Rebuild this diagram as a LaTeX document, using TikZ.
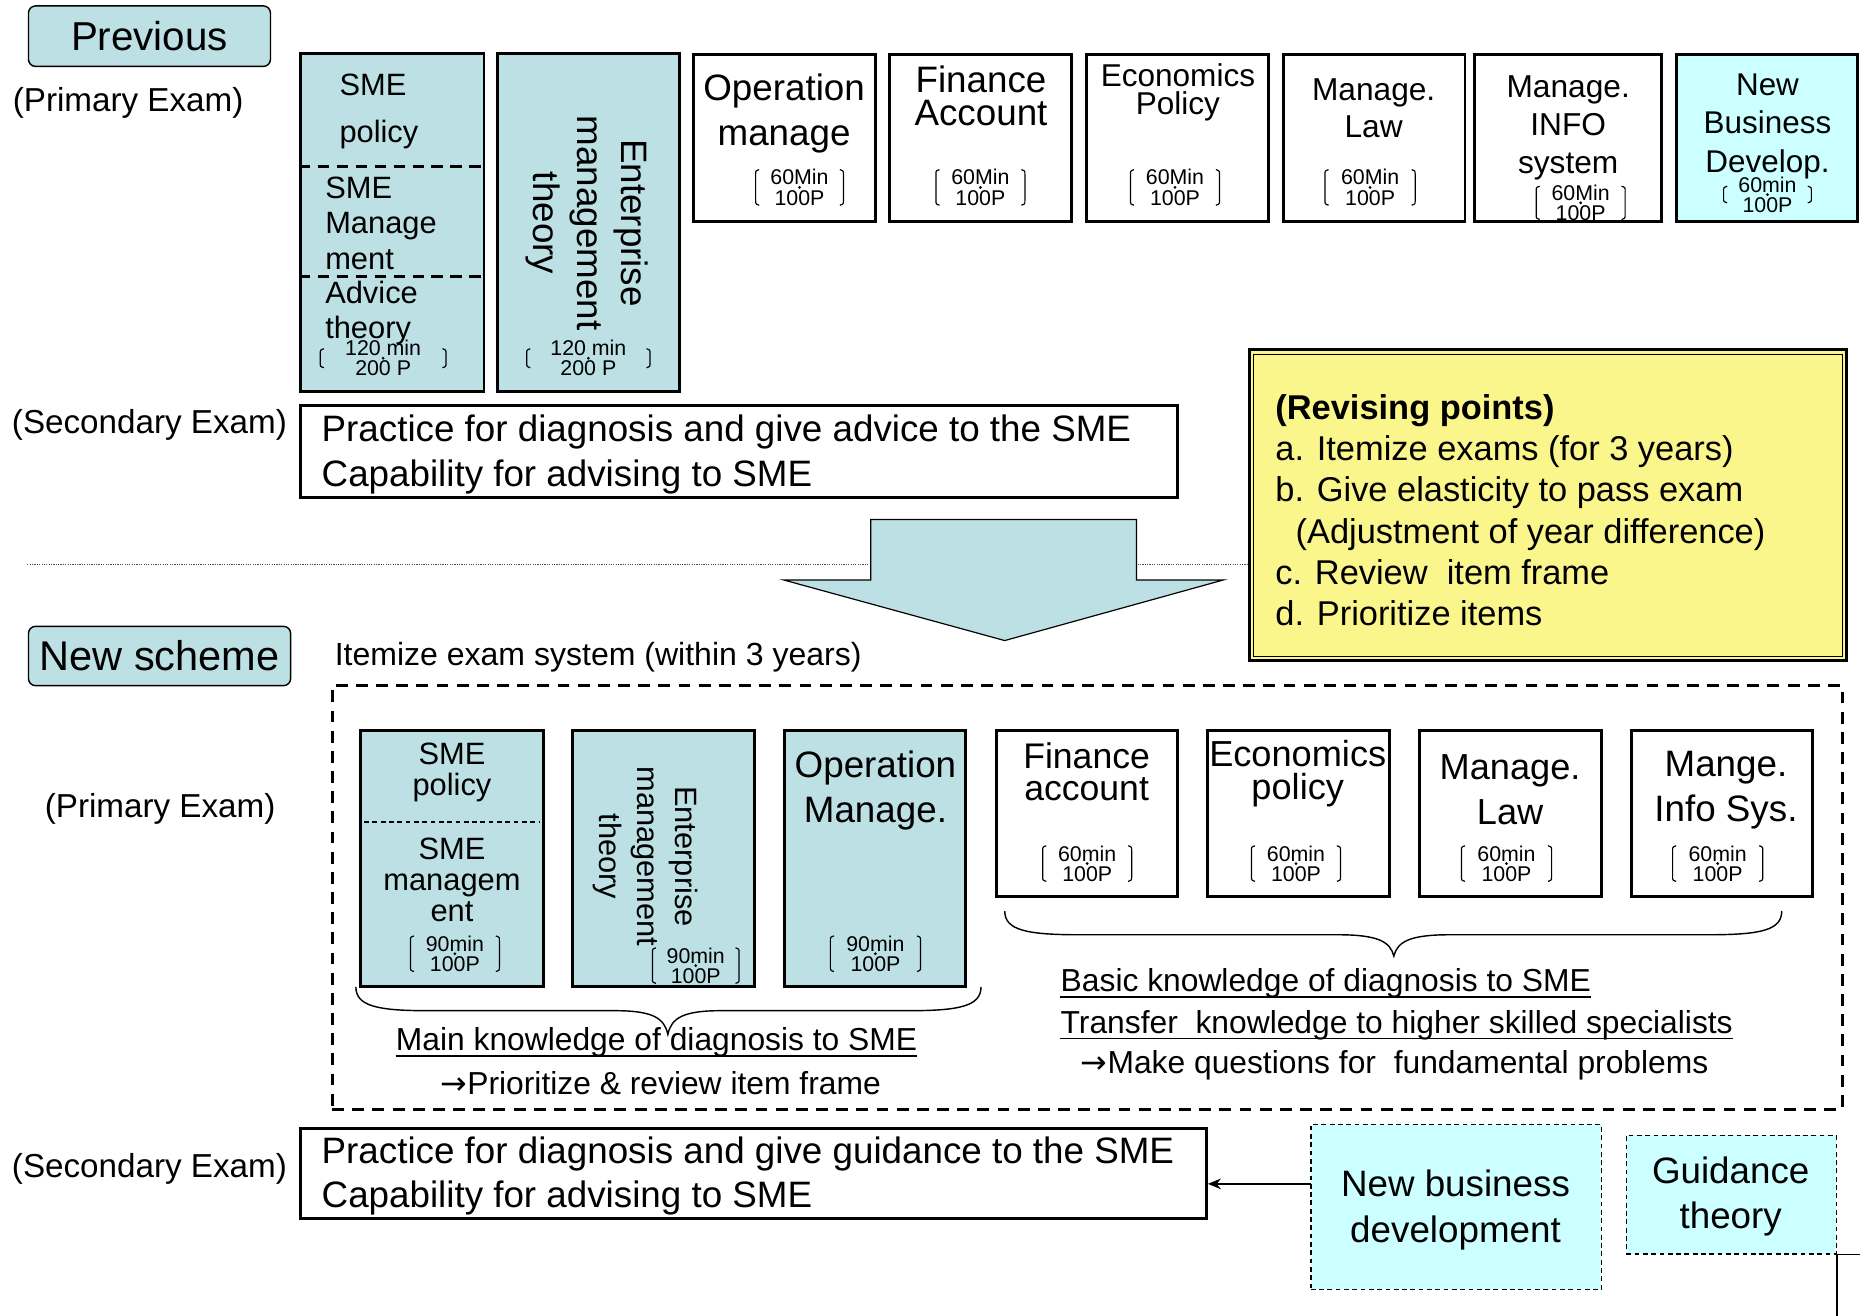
\documentclass[tikz,border=0pt]{standalone}
\usepackage{fontspec}
\setmainfont{Liberation Sans}
\newfontfamily\dv{DejaVu Sans}
\usetikzlibrary{arrows.meta,calc}
\definecolor{lb}{HTML}{BCE0E4}
\definecolor{cy}{HTML}{CCFFFF}
\definecolor{yl}{HTML}{FAF68C}
\newcommand\fs[2]{\fontsize{#1}{#2}\selectfont}
% name, cx, cy, line1, line2, half width, half height
\newcommand\infobox[7]{%
  \node[infot] (#1) at (#2,#3) {#4\\#5};
  \fill (#2,#3) circle (1.3pt);
  \draw[brk] (#2-#6+3,#3-#7) .. controls (#2-#6,#3-#7+1) .. (#2-#6,#3-#7+4) -- (#2-#6,#3+#7-4) .. controls (#2-#6,#3+#7-1) .. (#2-#6+3,#3+#7);
  \draw[brk] (#2+#6-3,#3-#7) .. controls (#2+#6,#3-#7+1) .. (#2+#6,#3-#7+4) -- (#2+#6,#3+#7-4) .. controls (#2+#6,#3+#7-1) .. (#2+#6-3,#3+#7);
}
\newcommand\uln[1]{\draw[line width=1.5pt] ($(#1.base west)+(0,4.5)$) -- ($(#1.base east)+(0,4.5)$);}
\tikzset{
  bx/.style={draw, line width=2.5pt, inner sep=0pt},
  tx/.style={inner sep=0pt, align=center},
  txl/.style={inner sep=0pt, align=left, anchor=west},
  infot/.style={inner sep=0pt, align=center, font=\fs{18}{17}},
  brk/.style={line width=1pt},
  dsh/.style={draw, line width=1.2pt, dash pattern=on 4pt off 3pt, inner sep=0pt},
  title/.style={draw, line width=1.2pt, rounded corners=6pt, fill=lb, inner sep=0pt},
}
\begin{document}
\begin{tikzpicture}[x=1pt, y=-1pt]
\useasboundingbox (0,0) rectangle (1568,1109);

% ---------- Previous ----------
\node[title, minimum width=204pt, minimum height=51pt, font=\fs{34}{34}] (prev) at (126,30.5) {Previous};
\node[tx, font=\fs{28}{28}] (prim1) at (108,87) {(Primary Exam)};

\node[bx, fill=lb, minimum width=155pt, minimum height=285pt] (A1) at (330.5,187.5) {};
\draw[line width=2.5pt, dash pattern=on 10pt off 6pt] (A1.west |- 0,140) -- (A1.east |- 0,140);
\draw[line width=2.5pt, dash pattern=on 10pt off 6pt] (A1.west |- 0,233) -- (A1.east |- 0,233);
\node[txl, font=\fs{26}{40}] (A1a) at (286,94) {SME\\policy};
\node[txl, font=\fs{26}{30}] (A1b) at (274,188) {SME\\Manage\\ment};
\node[txl, font=\fs{26}{30}] (A1c) at (274,264) {Advice\\theory};
\infobox{A1i}{323}{302}{120 min}{200 P}{53}{8}

\node[bx, fill=lb, minimum width=154pt, minimum height=285pt] (A2) at (496,187.5) {};
\node[tx, rotate=-90, font=\fs{31}{37}] (A2t) at (495,188) {Enterprise\\management\\theory};
\infobox{A2i}{496}{302}{120 min}{200 P}{52}{8}

\node[bx, minimum width=153pt, minimum height=141pt] (A3) at (661.5,116.5) {};
\node[tx, font=\fs{31}{38}] (A3t) at (661,96) {Operation\\manage};
\infobox{A3i}{674}{158}{60Min}{100P}{37}{15}

\node[bx, minimum width=153pt, minimum height=141pt] (A4) at (826.5,116.5) {};
\node[tx, font=\fs{31}{28}] (A4t) at (827,81) {Finance\\Account};
\infobox{A4i}{826.5}{158}{60Min}{100P}{37.5}{15}

\node[bx, minimum width=153pt, minimum height=141pt] (A5) at (992.5,116.5) {};
\node[tx, font=\fs{26.6}{24}] (A5t) at (993,78) {Economics\\Policy};
\infobox{A5i}{990.5}{158}{60Min}{100P}{37.5}{15}

\node[bx, minimum width=153pt, minimum height=141pt] (A6) at (1158.5,116.5) {};
\node[tx, font=\fs{26.7}{31}] (A6t) at (1158,91) {Manage.\\Law};
\infobox{A6i}{1155}{158}{60Min}{100P}{38}{15}

\node[bx, minimum width=158pt, minimum height=141pt] (A7) at (1322,116.5) {};
\node[tx, font=\fs{26.7}{32}] (A7t) at (1322,108) {Manage.\\INFO\\system};
\infobox{A7i}{1332.5}{171}{60Min}{100P}{37.5}{14}

\node[bx, fill=cy, minimum width=153pt, minimum height=141pt] (A8) at (1489.5,116.5) {};
\node[tx, font=\fs{26.5}{32.5}] (A8t) at (1490,106.5) {New\\Business\\Develop.};
\infobox{A8i}{1490}{164}{60min}{100P}{37}{7}

\node[tx, font=\fs{28}{28}] (sec1) at (126,358) {(Secondary Exam)};
\node[bx, minimum width=740pt, minimum height=77pt] (S1) at (623,380.5) {};
\node[txl, font=\fs{31}{38}] (S1t) at (271,383) {Practice for diagnosis and give advice to the SME\\Capability for advising to SME};

% ---------- divider and arrow ----------
\draw[line width=1pt, gray!60!black, dash pattern=on 1pt off 1pt] (23,476) -- (1053,476);
\draw[line width=1pt, fill=lb] (734,438) -- (958,438) -- (958,489) -- (1031,489) -- (847,540) -- (661,489) -- (734,489) -- cycle;

% ---------- Revising points ----------
\node[draw, line width=2.5pt, fill=yl, minimum width=504pt, minimum height=262pt] (rev) at (1305,426) {};
\draw[line width=1pt] ($(rev.north west)+(5,5)$) rectangle ($(rev.south east)+(-5,-5)$);
\node[txl, font=\fs{29}{34.8}] (revt) at (1075,430) {{\bfseries (Revising points)}\\a. Itemize exams (for 3 years)\\b. Give elasticity to pass exam\\\hspace*{17pt}(Adjustment of year difference)\\c. Review\ \ item frame\\d. Prioritize items};

% ---------- New scheme ----------
\node[title, minimum width=221pt, minimum height=50pt, font=\fs{35}{35}] (new) at (134.5,553) {New scheme};
\node[txl, font=\fs{27}{27}] (item) at (282,554) {Itemize exam system (within 3 years)};
\node[draw, line width=2.5pt, dash pattern=on 10pt off 7pt, minimum width=1273pt, minimum height=357pt] (dbox) at (916.5,756.5) {};
\node[tx, font=\fs{28}{28}] (prim2) at (135,682) {(Primary Exam)};

\node[bx, fill=lb, minimum width=154pt, minimum height=216pt] (B1) at (381,724) {};
\draw[line width=1.2pt, dash pattern=on 4pt off 3pt] (307,693) -- (455,693);
\node[tx, font=\fs{26}{26}] (B1a) at (381,651) {SME\\policy};
\node[tx, font=\fs{26}{26}] (B1b) at (381,742) {SME\\managem\\ent};
\infobox{B1i}{383.5}{804}{90min}{100P}{37.5}{15}

\node[bx, fill=lb, minimum width=153pt, minimum height=216pt] (B2) at (559.5,724) {};
\node[tx, rotate=-90, font=\fs{26}{32}] (B2t) at (544.5,722) {Enterprise\\management\\theory};
\infobox{B2i}{586.5}{814}{90min}{100P}{36.5}{15}

\node[bx, fill=lb, minimum width=153pt, minimum height=216pt] (B3) at (737.5,724) {};
\node[tx, font=\fs{31}{38}] (B3t) at (738,666) {Operation\\Manage.};
\infobox{B3i}{738}{804}{90min}{100P}{38}{15}

\node[bx, minimum width=153pt, minimum height=140pt] (B4) at (916.5,686) {};
\node[tx, font=\fs{30}{27}] (B4t) at (916,651) {Finance\\account};
\infobox{B4i}{916.5}{728}{60min}{100P}{37.5}{15}

\node[bx, minimum width=153pt, minimum height=140pt] (B5) at (1094.5,686) {};
\node[tx, font=\fs{30.5}{28}] (B5t) at (1094,652) {Economics\\policy};
\infobox{B5i}{1092.5}{728}{60min}{100P}{37.5}{15}

\node[bx, minimum width=153pt, minimum height=140pt] (B6) at (1273.5,686) {};
\node[tx, font=\fs{30.5}{38}] (B6t) at (1273,666) {Manage.\\Law};
\infobox{B6i}{1270}{728}{60min}{100P}{38}{15}

\node[bx, minimum width=153pt, minimum height=140pt] (B7) at (1451.5,686) {};
\node[tx, font=\fs{31}{38}] (B7t) at (1455,666) {Mange.\\Info Sys.};
\infobox{B7i}{1448}{728}{60min}{100P}{38}{15}

% braces
\draw[line width=1.2pt] (300,832) .. controls (300,848) and (318,852) .. (360,852) -- (518,852) .. controls (550,852) and (560,858) .. (563,872) .. controls (566,858) and (576,852) .. (608,852) -- (767,852) .. controls (809,852) and (827,848) .. (827,832);
\draw[line width=1.2pt] (847,768) .. controls (847,784) and (865,788) .. (910,788) -- (1128,788) .. controls (1162,788) and (1172,794) .. (1175,806) .. controls (1178,794) and (1188,788) .. (1222,788) -- (1440,788) .. controls (1485,788) and (1502,784) .. (1502,768);

\node[tx, font=\fs{26.8}{26.8}] (main) at (553.5,879) {Main knowledge of diagnosis to SME};
\uln{main}
\node[tx, font=\fs{26.8}{26.8}] (prio) at (557,913) {{\dv →}Prioritize \& review item frame};
\node[txl, font=\fs{26.8}{26.8}] (basic) at (894,829) {Basic knowledge of diagnosis to SME};
\uln{basic}
\node[txl, font=\fs{26.8}{26.8}] (trans) at (894,864) {Transfer\ \ knowledge to higher skilled specialists};
\uln{trans}
\node[txl, font=\fs{26.8}{26.8}] (make) at (911,898) {{\dv →}Make questions for\ \ fundamental problems};

% ---------- Secondary (new) ----------
\node[tx, font=\fs{28}{28}] (sec2) at (126,985) {(Secondary Exam)};
\node[bx, minimum width=764pt, minimum height=76pt] (S2) at (635,989) {};
\node[txl, font=\fs{31}{37}] (S2t) at (271,991.5) {Practice for diagnosis and give guidance to the SME\\Capability for advising to SME};

\node[dsh, fill=cy, minimum width=245pt, minimum height=139pt] (NB) at (1227.5,1017.5) {};
\node[tx, font=\fs{31}{38}] (NBt) at (1227,1020) {New business\\development};
\node[dsh, fill=cy, minimum width=177pt, minimum height=100pt] (GT) at (1459.5,1007) {};
\node[tx, font=\fs{31}{38}] (GTt) at (1459,1009) {Guidance\\theory};

\coordinate (arrS) at (1105,998);
\draw[line width=1.2pt, -{Stealth[length=11pt,width=9pt]}] (arrS) -- (arrS -| S2.east);

\draw[line width=1pt] (GT.south east) -- ++(20,0);
\draw[line width=1pt] (GT.south east) -- ++(0,52);
\end{tikzpicture}
\end{document}
